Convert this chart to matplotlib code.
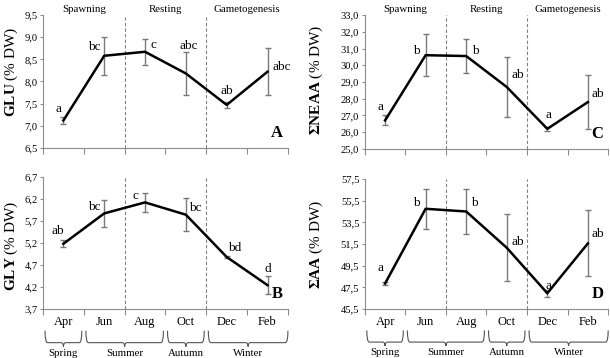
import matplotlib
matplotlib.use("Agg")
import matplotlib.pyplot as plt
from matplotlib.path import Path
from matplotlib.patches import PathPatch
import matplotlib.transforms as mtransforms

plt.rcParams["font.family"] = "Liberation Serif"
plt.rcParams["mathtext.fontset"] = "custom"
plt.rcParams["mathtext.rm"] = "Liberation Serif"
plt.rcParams["mathtext.bf"] = "Liberation Serif:bold"

months = ["Apr", "Jun", "Aug", "Oct", "Dec", "Feb"]
phases = ["Spawning", "Resting", "Gametogenesis"]
seasons = ["Spring", "Summer", "Autumn", "Winter"]
season_spans = [(0, 0), (1, 2), (3, 3), (4, 5)]

glu = [7.12, 8.58, 8.67, 8.18, 7.47, 8.22]
glu_err = [0.08, 0.43, 0.30, 0.48, 0.06, 0.53]
glu_sig = ["a", "bc", "c", "abc", "ab", "abc"]

gly = [5.18, 5.87, 6.12, 5.84, 4.88, 4.24]
gly_err = [0.08, 0.30, 0.22, 0.38, 0.03, 0.20]
gly_sig = ["ab", "bc", "c", "bc", "bd", "d"]

neaa = [26.7, 30.6, 30.55, 28.7, 26.2, 27.8]
neaa_err = [0.3, 1.25, 1.0, 1.8, 0.1, 1.6]
neaa_sig = ["a", "b", "b", "ab", "a", "ab"]

aa = [47.85, 54.75, 54.5, 51.15, 46.95, 51.55]
aa_err = [0.18, 1.85, 2.05, 3.1, 0.33, 3.05]
aa_sig = ["a", "b", "b", "ab", "a", "ab"]

fig = plt.figure(figsize=(6.10, 3.58), dpi=100)

GREY = "#8c8c8c"


def panel(rect, vals, errs, sig, sig_off, yticks, ylabel, label_xy, letter,
          bottom=False):
    ax = fig.add_axes(rect)
    x = list(range(len(vals)))
    ax.errorbar(x, vals, yerr=errs, fmt="none", ecolor="#7a7a7a",
                elinewidth=1.0, capsize=2.5, capthick=1.0, zorder=2)
    ax.plot(x, vals, color="black", lw=1.8, zorder=3)
    for i, (s, off) in enumerate(zip(sig, sig_off)):
        ax.annotate(s, (i, vals[i]), textcoords="offset points", xytext=off,
                    ha="center", va="center", fontsize=9.5)
    for b in (1.5, 3.5):
        ax.axvline(b, color="#808080", lw=0.8, ls=(0, (3, 2)), zorder=1)
    ax.set_xlim(-0.5, 5.5)
    ax.set_ylim(yticks[0], yticks[-1])
    ax.set_yticks(yticks)
    ax.set_yticklabels([f"{t:.1f}".replace(".", ",") for t in yticks],
                       fontsize=7.6)
    ax.set_xticks([i - 0.5 for i in range(7)])
    ax.set_xticklabels([])
    ax.set_xticks(x, minor=True)
    if bottom:
        ax.set_xticklabels(months, minor=True, fontsize=9)
    ax.tick_params(axis="x", which="minor", length=0, pad=5)
    ax.tick_params(axis="x", which="major", length=4, color=GREY, width=0.8)
    ax.tick_params(axis="y", length=2.5, color=GREY, width=0.8, pad=1.5)
    for s in ("top", "right"):
        ax.spines[s].set_visible(False)
    for s in ("left", "bottom"):
        ax.spines[s].set_color(GREY)
        ax.spines[s].set_linewidth(0.8)
    ax.set_ylabel(ylabel, fontsize=11)
    ax.yaxis.set_label_coords(*label_xy)
    ax.text(0.98, 0.05, letter, transform=ax.transAxes, ha="right",
            va="bottom", fontsize=12, fontweight="bold")
    return ax


def brackets(ax):
    tr = mtransforms.blended_transform_factory(ax.transData, ax.transAxes)
    ytop, ybot, ydip = -0.165, -0.255, -0.285
    for name, (i0, i1) in zip(seasons, season_spans):
        x0 = i0 - 0.45
        x1 = i1 + 0.45 if i1 < 5 else 5.5
        xm = (x0 + x1) / 2
        r = 0.06
        verts = [(x0, ytop), (x0, ybot), (x0 + r, ybot),
                 (xm - r, ybot), (xm, ybot), (xm, ydip),
                 (xm, ybot), (xm + r, ybot),
                 (x1 - r, ybot), (x1, ybot), (x1, ytop)]
        codes = [Path.MOVETO, Path.CURVE3, Path.CURVE3,
                 Path.LINETO, Path.CURVE3, Path.CURVE3,
                 Path.CURVE3, Path.CURVE3,
                 Path.LINETO, Path.CURVE3, Path.CURVE3]
        ax.add_patch(PathPatch(Path(verts, codes), transform=tr, fill=False,
                               edgecolor="#555555", lw=0.8, clip_on=False))
        ax.text(xm, -0.335, name, transform=tr, ha="center", va="center",
                fontsize=7.8)


L1, W1 = 0.0705, 0.4015
L2, W2 = 0.598, 0.399

axA = panel([L1, 0.587, W1, 0.371], glu, glu_err, glu_sig,
            [(-3.6, 8.3), (-7, 6.5), (5.8, 5), (2, 20), (0, 10), (10, 3.5)],
            [6.5, 7.0, 7.5, 8.0, 8.5, 9.0, 9.5],
            r"$\mathbf{GLU}$ (% DW)", (-0.093, 0.57), "A")
axB = panel([L1, 0.137, W1, 0.369], gly, gly_err, gly_sig,
            [(-4.3, 9.4), (-7, 4.7), (-7, 4.7), (7, 5), (6, 6.5), (0, 11.5)],
            [3.7, 4.2, 4.7, 5.2, 5.7, 6.2, 6.7],
            r"$\mathbf{GLY}$ (% DW)", (-0.093, 0.48), "B", bottom=True)
axC = panel([L2, 0.584, W2, 0.374], neaa, neaa_err, neaa_sig,
            [(-3, 10), (-6.5, 3), (6.5, 3.5), (8, 8.5), (0.7, 10), (7, 6)],
            [25.0, 26.0, 27.0, 28.0, 29.0, 30.0, 31.0, 32.0, 33.0],
            r"$\mathbf{\Sigma NEAA}$ (% DW)", (-0.165, 0.52), "C")
axD = panel([L2, 0.137, W2, 0.363], aa, aa_err, aa_sig,
            [(-3, 11), (-6.5, 4.5), (6, 6), (8, 4.5), (0.7, 5), (7, 7)],
            [45.5, 47.5, 49.5, 51.5, 53.5, 55.5, 57.5],
            r"$\mathbf{\Sigma AA}$ (% DW)", (-0.165, 0.5), "D", bottom=True)

brackets(axB)
brackets(axD)

for ax in (axA, axC):
    tr = mtransforms.blended_transform_factory(ax.transData, ax.transAxes)
    for i, name in enumerate(phases):
        ax.text(2 * i + 0.5, 1.005, name, transform=tr,
                ha="center", va="bottom", fontsize=7.8)

fig.savefig("out.png", dpi=100)
